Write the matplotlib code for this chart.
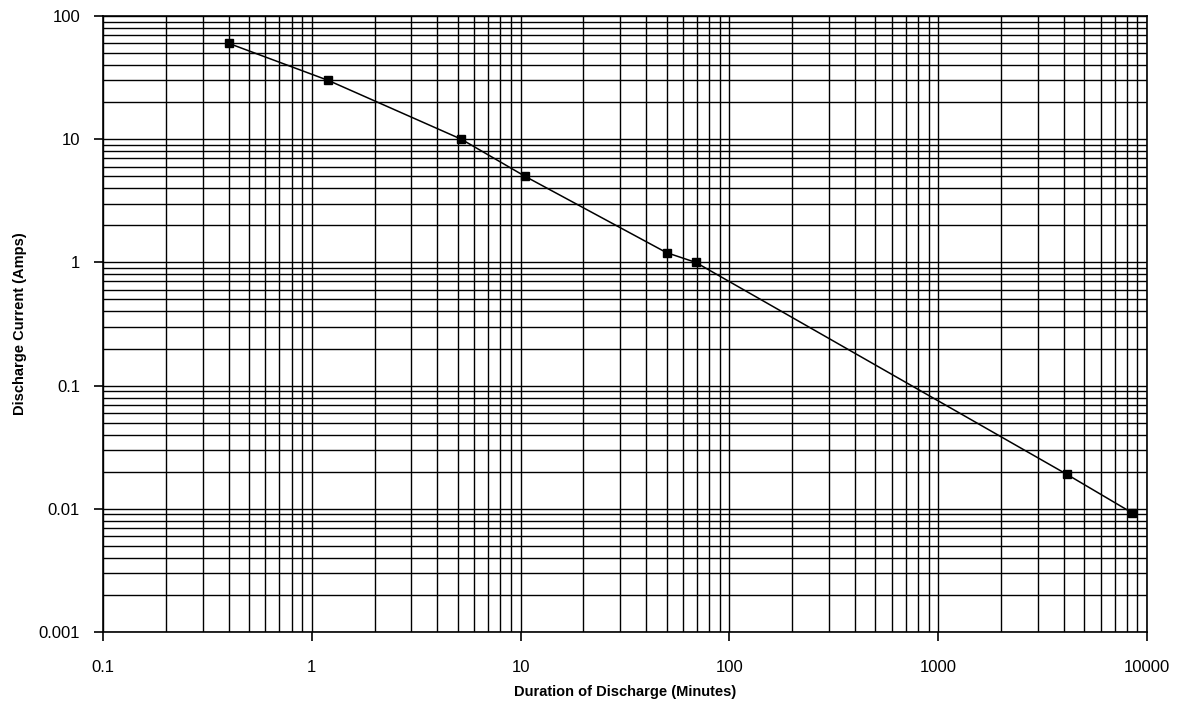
import numpy as np
import matplotlib.pyplot as plt
from matplotlib.ticker import LogLocator, FixedLocator, FixedFormatter, NullFormatter

plt.rcParams['font.family'] = ['Liberation Sans', 'DejaVu Sans']

# Werte
duration_min = [0.4, 1.2, 5.2, 10.5, 50, 69, 4140, 8460]
current_amps = [60, 30, 10, 5, 1.2, 1.0, 0.019, 0.0093]

x_ticks = [0.1, 1, 10, 100, 1000, 10000]
x_labels = ['0.1', '1', '10', '100', '1000', '10000']
y_ticks = [0.001, 0.01, 0.1, 1, 10, 100]
y_labels = ['0.001', '0.01', '0.1', '1', '10', '100']

fig = plt.figure(figsize=(11.77, 7.12), dpi=100)
ax = fig.add_axes([0.0875, 0.1124, 0.887, 0.8651])

ax.set_xscale('log')
ax.set_yscale('log')
ax.set_xlim(0.1, 10000)
ax.set_ylim(0.001, 100)

ax.plot(duration_min, current_amps, color='black', lw=1.1, marker='s',
        markersize=5.5, markerfacecolor='black', markeredgecolor='black', zorder=3)

ax.xaxis.set_major_locator(FixedLocator(x_ticks))
ax.xaxis.set_major_formatter(FixedFormatter(x_labels))
ax.yaxis.set_major_locator(FixedLocator(y_ticks))
ax.yaxis.set_major_formatter(FixedFormatter(y_labels))
ax.xaxis.set_minor_locator(LogLocator(base=10, subs=np.arange(2, 10), numticks=20))
ax.yaxis.set_minor_locator(LogLocator(base=10, subs=np.arange(2, 10), numticks=20))
ax.xaxis.set_minor_formatter(NullFormatter())
ax.yaxis.set_minor_formatter(NullFormatter())

ax.grid(True, which='both', color='black', lw=1.0)
ax.set_axisbelow(True)

ax.tick_params(which='major', direction='out', length=6.5, width=1.2, labelsize=12)
ax.tick_params(axis='x', which='major', pad=14)
ax.tick_params(axis='y', which='major', pad=10)
ax.tick_params(which='minor', length=0)
for s in ax.spines.values():
    s.set_linewidth(1.2)

ax.set_xlabel('Duration of Discharge (Minutes)', fontsize=10.5, fontweight='bold', labelpad=7)
ax.set_ylabel('Discharge Current (Amps)', fontsize=10.5, fontweight='bold', labelpad=8)

fig.savefig('out.png', dpi=100)
